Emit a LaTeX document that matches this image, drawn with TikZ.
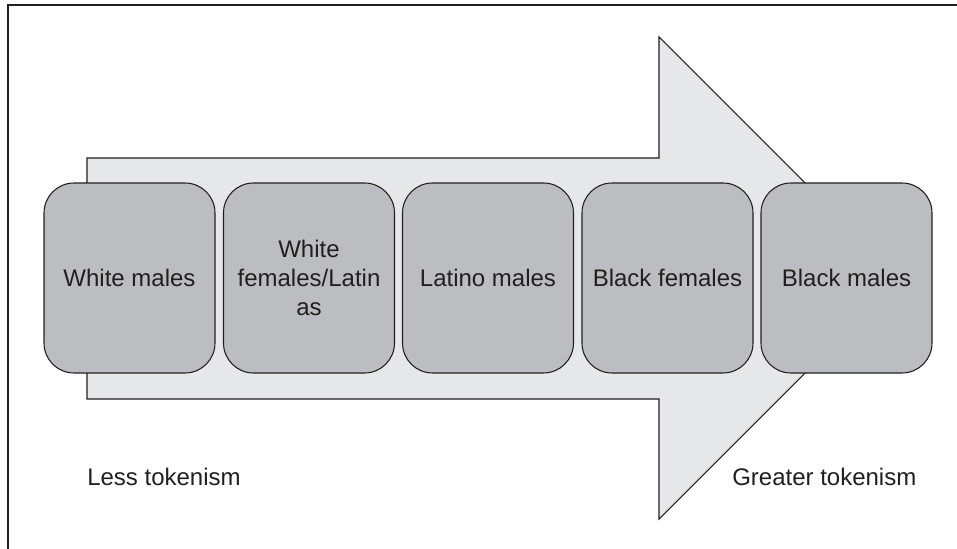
\documentclass[tikz,border=0pt]{standalone}
\usepackage{fontspec}
\setmainfont{Liberation Sans}
\definecolor{boxgray}{HTML}{BCBDC0}
\definecolor{arrowgray}{HTML}{E6E7E8}
\definecolor{ink}{HTML}{231F20}
\begin{document}
\begin{tikzpicture}[x=0.75pt,y=-0.75pt,
  catbox/.style={draw=ink, line width=0.8pt, fill=boxgray, rounded corners=22.5pt,
    minimum width=128.25pt, minimum height=142.5pt, inner sep=0pt, align=center,
    font=\fontsize{18}{21.5}\selectfont, text=ink},
  lbl/.style={font=\fontsize{18}{21.5}\selectfont, text=ink, inner sep=0pt, anchor=base west}]
\useasboundingbox (0,0) rectangle (957,549);
\fill[white] (0,0) rectangle (957,549);
% frame (cropped)
\draw[ink, line width=1.5pt] (8,549) -- (8,5.5) -- (957,5.5);
% big arrow
\draw[ink, line width=0.8pt, fill=arrowgray]
  (87,158) -- (659,158) -- (659,37) -- (900,278) -- (659,519) -- (659,399) -- (87,399) -- cycle;
% category boxes
\node[catbox] (b1) at (129.5,278) {White males};
\node[catbox] (b2) at (309,278) {White\\females/Latin\\as};
\node[catbox] (b3) at (488,278) {Latino males};
\node[catbox] (b4) at (667.5,278) {Black females};
\node[catbox] (b5) at (846.5,278) {Black males};
% labels
\node[lbl] (less) at (87,485) {Less tokenism};
\node[lbl] (greater) at (732,485) {Greater tokenism};
\end{tikzpicture}
\end{document}
